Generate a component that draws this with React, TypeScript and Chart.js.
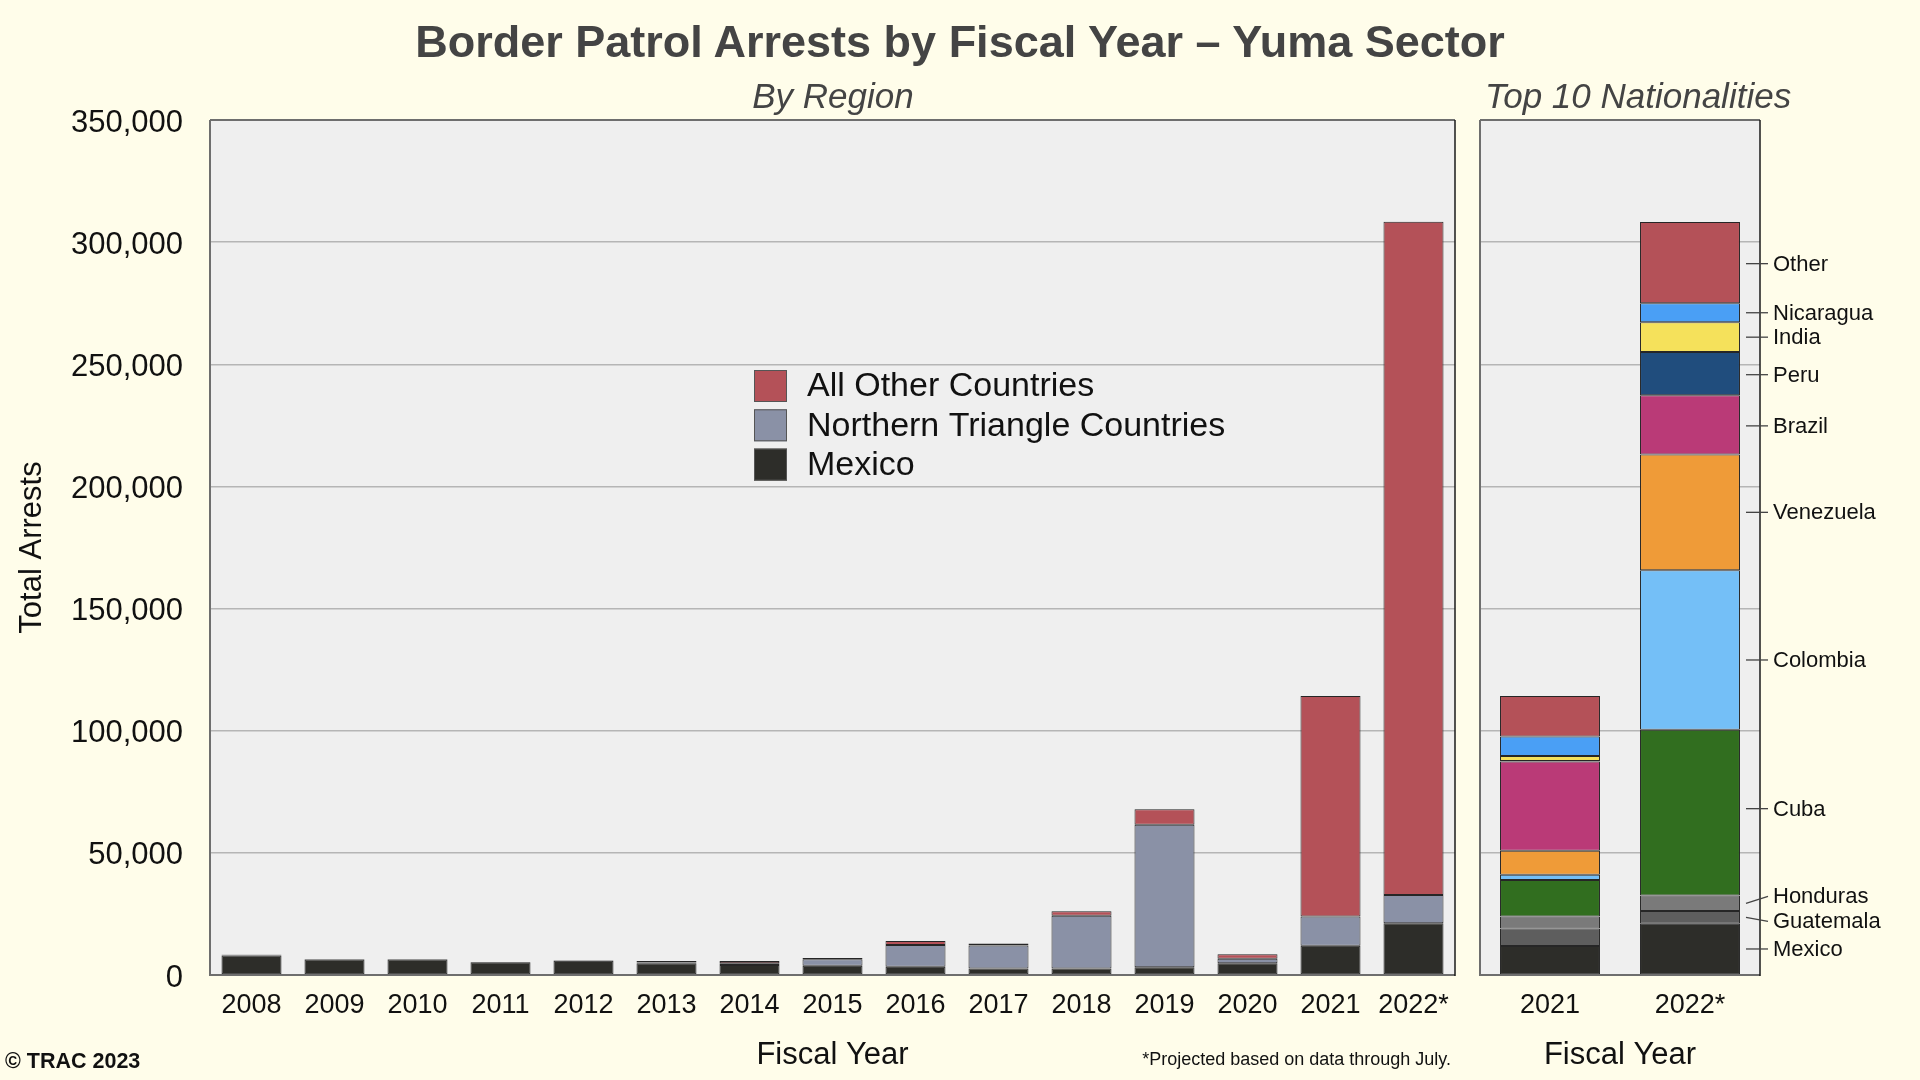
import React, { useEffect, useRef } from 'react';
import { Chart, registerables } from 'chart.js';

Chart.register(...registerables);

const FONT = '"Liberation Sans", Arial, Helvetica, sans-serif';

// ---- Left panel: by region ----
const years = ['2008', '2009', '2010', '2011', '2012', '2013', '2014', '2015', '2016', '2017', '2018', '2019', '2020', '2021', '2022*'];
const mexico = [8000, 6300, 6300, 5200, 5800, 4800, 4100, 3800, 3400, 2700, 2700, 3200, 4800, 12000, 21200];
const northernTriangle = [300, 250, 250, 100, 200, 300, 700, 2600, 8900, 9400, 21600, 58300, 1900, 11900, 11500];
const allOther = [100, 50, 50, 0, 50, 600, 900, 600, 1600, 800, 1800, 6400, 1800, 90300, 275600];

// ---- Right panel: top 10 nationalities ----
const natYears = ['2021', '2022*'];
const natMexico = [11900, 21000];
const natGuatemala = [7100, 5200];
const natHonduras = [4900, 6300];
const natCuba = [15000, 67900];
const natColombia = [2100, 65300];
const natVenezuela = [9900, 47400];
const natBrazil = [36500, 24200];
const natPeru = [200, 17700];
const natIndia = [2100, 12200];
const natNicaragua = [7900, 7800];
const natOther = [16600, 33200];

const yTicksMax = 350000;
const yTicksStep = 50000;

const COLORS = {
  other: '#B45158',
  nt: '#8A91A6',
  mexico: '#2D2D29',
  guatemala: '#5E5E5E',
  honduras: '#7A7A7A',
  cuba: '#316E1F',
  colombia: '#74BFF7',
  venezuela: '#EF9B38',
  brazil: '#BA3A77',
  peru: '#204D7D',
  india: '#F5E15B',
  nicaragua: '#4A9FF5',
};

// pixel nudges for label placement (style only)
// order: Mexico, Guatemala, Honduras, Cuba, Colombia, Venezuela, Brazil, Peru, India, Nicaragua, Other
const anchorNudge = [0, 0, 0, -4, 10, 0, 1, 1, 0, 0, 1];
const textNudge = [0, 4, -7, 0, 0, 0, 0, 0, 0, 0, 0];

const bgPlugin = {
  id: 'plotBg',
  beforeDraw(chart: any) {
    const { ctx, chartArea: a } = chart;
    ctx.save();
    ctx.fillStyle = '#EFEFEF';
    ctx.fillRect(a.left, a.top, a.right - a.left, a.bottom - a.top);
    ctx.restore();
  },
  afterDraw(chart: any) {
    const { ctx, chartArea: a } = chart;
    ctx.save();
    ctx.strokeStyle = '#6E6E6E';
    ctx.lineWidth = 2;
    ctx.beginPath();
    ctx.moveTo(a.left, a.top);
    ctx.lineTo(a.right, a.top);
    ctx.moveTo(a.left, a.top);
    ctx.lineTo(a.left, a.bottom);
    ctx.lineTo(a.right, a.bottom);
    ctx.stroke();
    ctx.strokeStyle = '#1A1A1A';
    ctx.lineWidth = 1.5;
    ctx.beginPath();
    ctx.moveTo(a.right, a.top);
    ctx.lineTo(a.right, a.bottom + 1);
    ctx.stroke();
    ctx.restore();
  },
};

const legendPlugin = {
  id: 'innerLegend',
  afterDatasetsDraw(chart: any) {
    const { ctx, chartArea: a } = chart;
    const items = [...chart.data.datasets].reverse();
    const x = a.left + 544;
    const y0 = a.top + 250;
    ctx.save();
    items.forEach((ds: any, i: number) => {
      const top = y0 + i * 39.3;
      ctx.fillStyle = ds.backgroundColor;
      ctx.fillRect(x, top, 33, 32);
      ctx.strokeStyle = '#555';
      ctx.lineWidth = 1;
      ctx.strokeRect(x + 0.5, top + 0.5, 32, 31);
      ctx.fillStyle = '#111';
      ctx.font = `34px ${FONT}`;
      ctx.textBaseline = 'middle';
      ctx.textAlign = 'left';
      ctx.fillText(ds.label, x + 53, top + 17);
    });
    ctx.restore();
  },
};

const natLabelPlugin = {
  id: 'natLabels',
  afterDraw(chart: any) {
    const { ctx, chartArea: a } = chart;
    ctx.save();
    ctx.font = `22px ${FONT}`;
    ctx.textBaseline = 'middle';
    ctx.textAlign = 'left';
    chart.data.datasets.forEach((ds: any, i: number) => {
      const meta = chart.getDatasetMeta(i);
      const bar: any = meta.data[1];
      if (!bar) return;
      const { y, base } = bar.getProps(['y', 'base'], true);
      const mid = (y + base) / 2 + anchorNudge[i];
      const ly = mid + textNudge[i];
      const x0 = a.right - 14;
      const x1 = a.right + 8;
      ctx.strokeStyle = '#444';
      ctx.lineWidth = 1.3;
      ctx.beginPath();
      ctx.moveTo(x0, mid);
      ctx.lineTo(x1, ly);
      ctx.stroke();
      ctx.fillStyle = '#111';
      ctx.fillText(ds.label, x1 + 5, ly + 1);
    });
    ctx.restore();
  },
};

const fmt = (v: any) => Number(v).toLocaleString('en-US');

function barDs(label: string, data: number[], color: string, pct: number) {
  return {
    label,
    data,
    backgroundColor: color,
    borderColor: '#262626',
    borderWidth: 1,
    borderSkipped: false as any,
    barPercentage: pct,
    categoryPercentage: 1,
  };
}

export default function App() {
  const leftRef = useRef<HTMLCanvasElement>(null);
  const rightRef = useRef<HTMLCanvasElement>(null);

  useEffect(() => {
    Chart.defaults.font.family = FONT;
    const xAxis = {
      stacked: true,
      grid: { display: false, drawTicks: false },
      border: { display: false },
      ticks: { font: { size: 27 }, color: '#111', padding: 14, autoSkip: false, maxRotation: 0 },
      title: { display: true, text: 'Fiscal Year', font: { size: 31 }, color: '#111', padding: { top: 0, bottom: 6 } },
      afterFit: (s: any) => { s.height = 105; },
    };
    const left = new Chart(leftRef.current as HTMLCanvasElement, {
      type: 'bar',
      data: {
        labels: years,
        datasets: [
          barDs('Mexico', mexico, COLORS.mexico, 0.723),
          barDs('Northern Triangle Countries', northernTriangle, COLORS.nt, 0.723),
          barDs('All Other Countries', allOther, COLORS.other, 0.723),
        ],
      },
      options: {
        responsive: false,
        animation: false,
        layout: { padding: { left: 0, right: 15, top: 120, bottom: 0 } },
        plugins: { legend: { display: false }, tooltip: { enabled: false }, title: { display: false } },
        scales: {
          x: xAxis,
          y: {
            stacked: true,
            min: 0,
            max: yTicksMax,
            ticks: { stepSize: yTicksStep, font: { size: 31 }, color: '#111', padding: 27, labelOffset: 3, callback: fmt },
            grid: { color: '#B5B5B5', lineWidth: 1.5, drawTicks: false },
            border: { display: false },
            title: { display: true, text: 'Total Arrests', font: { size: 31 }, color: '#111', padding: { top: 14, bottom: 0 } },
            afterFit: (s: any) => { s.width = 210; },
          },
        },
      } as any,
      plugins: [bgPlugin, legendPlugin],
    });

    const right = new Chart(rightRef.current as HTMLCanvasElement, {
      type: 'bar',
      data: {
        labels: natYears,
        datasets: [
          barDs('Mexico', natMexico, COLORS.mexico, 0.714),
          barDs('Guatemala', natGuatemala, COLORS.guatemala, 0.714),
          barDs('Honduras', natHonduras, COLORS.honduras, 0.714),
          barDs('Cuba', natCuba, COLORS.cuba, 0.714),
          barDs('Colombia', natColombia, COLORS.colombia, 0.714),
          barDs('Venezuela', natVenezuela, COLORS.venezuela, 0.714),
          barDs('Brazil', natBrazil, COLORS.brazil, 0.714),
          barDs('Peru', natPeru, COLORS.peru, 0.714),
          barDs('India', natIndia, COLORS.india, 0.714),
          barDs('Nicaragua', natNicaragua, COLORS.nicaragua, 0.714),
          barDs('Other', natOther, COLORS.other, 0.714),
        ],
      },
      options: {
        responsive: false,
        animation: false,
        layout: { padding: { left: 10, right: 160, top: 120, bottom: 0 } },
        plugins: { legend: { display: false }, tooltip: { enabled: false }, title: { display: false } },
        scales: {
          x: xAxis,
          y: {
            stacked: true,
            min: 0,
            max: yTicksMax,
            ticks: { stepSize: yTicksStep, display: false },
            grid: { color: '#B5B5B5', lineWidth: 1.5, drawTicks: false },
            border: { display: false },
            afterFit: (s: any) => { s.width = 0; },
          },
        },
      } as any,
      plugins: [bgPlugin, natLabelPlugin],
    });

    return () => {
      left.destroy();
      right.destroy();
    };
  }, []);

  const textBase: React.CSSProperties = { position: 'absolute', fontFamily: FONT, lineHeight: 1, whiteSpace: 'nowrap' };

  return (
    <div style={{ position: 'absolute', left: 0, top: 0, width: 1920, height: 1080, background: '#FFFDEA', overflow: 'hidden' }}>
      <canvas ref={leftRef} width={1470} height={1080} style={{ position: 'absolute', left: 0, top: 0, width: 1470, height: 1080 }} />
      <canvas ref={rightRef} width={450} height={1080} style={{ position: 'absolute', left: 1470, top: 0, width: 450, height: 1080 }} />
      <div style={{ ...textBase, left: 0, width: 1920, top: 19, textAlign: 'center', fontSize: 45, fontWeight: 'bold', color: '#444' }}>
        Border Patrol Arrests by Fiscal Year – Yuma Sector
      </div>
      <div style={{ ...textBase, left: 633, width: 400, top: 78, textAlign: 'center', fontSize: 35, fontStyle: 'italic', color: '#444' }}>
        By Region
      </div>
      <div style={{ ...textBase, left: 1485, top: 78, fontSize: 35, fontStyle: 'italic', color: '#444' }}>
        Top 10 Nationalities
      </div>
      <div style={{ ...textBase, left: 5, top: 1051, fontSize: 21.5, fontWeight: 'bold', color: '#111' }}>
        © TRAC 2023
      </div>
      <div style={{ ...textBase, left: 951, width: 500, top: 1050, textAlign: 'right', fontSize: 18, color: '#111' }}>
        *Projected based on data through July.
      </div>
    </div>
  );
}
